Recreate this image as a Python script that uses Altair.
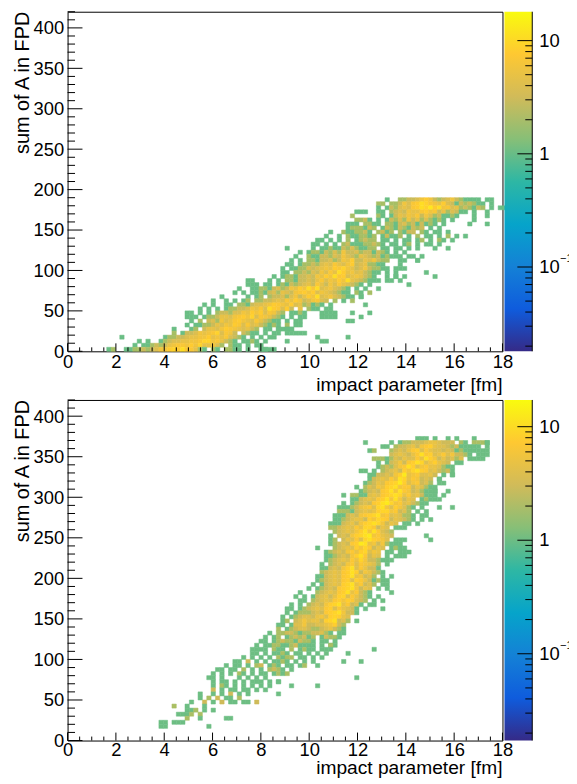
import altair as alt
import pandas as pd

FONT = "Liberation Sans"
BIRD = ["#352a87", "#0f5cdd", "#1481d6", "#06a4ca", "#2eb7a4", "#87bf77", "#d1bb59", "#fec832", "#f9fb0e"]
BIN_X = 0.18
BIN_Y = 5
X_LABELS = list(range(0, 19, 2))
Y_LABELS = list(range(0, 401, 50))
X_MINOR = [i * 0.5 for i in range(37)]
Y_MINOR = list(range(0, 421, 10))
CODES = {"a": 11, "b": 13, "c": 16}

# (row, first column, counts) ; '.' is an empty bin
TOP_ROWS = [
    (37, 73, "1..2233468632346321111.11"),
    (36, 71, "22.2236478a97658431323211.1"),
    (35, 71, "1.13245478a9b8a6745232132.1.11"),
    (34, 66, "111..11.234365578673524311.1"), (34, 96, "1"),
    (33, 65, "2.....21.1354657364231121"), (33, 93, "1"), (33, 96, "1"),
    (32, 66, "2231.1.13242635242121.1"), (32, 93, "1"),
    (31, 64, "111.2211.221342313121.1"), (31, 92, "1"), (31, 96, "1"),
    (30, 64, "1222132.1321321323.1.1"),
    (29, 60, "1..2112231.2312.2133.21.11.1"),
    (28, 59, "1..1.2112212.13112.1.2.11.1.2.1.1"),
    (27, 57, "11.1.1.2.12322.11.1.11.12.1.21.1"),
    (26, 56, "11.1.1.2311122321.11.12.1.11.1"),
    (25, 50, "1.....1.1121132421122.11.11.1"), (25, 80, "1"), (25, 84, "1"), (25, 87, "1"),
    (24, 53, "1.1221324263342331321.1.1"),
    (23, 52, "1..2113324364325432312111.11"), (23, 81, "1"),
    (22, 51, "1.1.2213342365833546322..11..1"), (22, 80, "1"),
    (21, 50, "11.12232454754683452211...1"),
    (20, 49, "1.11224345658796534632211.111"),
    (19, 49, "11.2232436475a856453211.1.1"), (19, 82, "1"),
    (18, 47, "1.122133436586a784565321..1.1"), (18, 75, "1"), (18, 77, "1"), (18, 84, "1"),
    (17, 41, "11...1.1.22133435746586a5432111.11.1"),
    (16, 41, "111.11.12132345375364754321.1"), (16, 78, "1"),
    (15, 39, "1..1122134236586a7a4564321.1.1"), (15, 71, "1"),
    (14, 38, "1.1.11213425436786846543211.2"), (14, 67, "1"), (14, 69, "2"),
    (13, 35, "1.....1.12.23342463586a45643211.1"), (13, 67, "1"),
    (12, 33, "1..1.1.12.22334547586346743.2.1"), (12, 65, "2"),
    (11, 31, "1.1..11.22134456876584523121.1"), (11, 68, "1"),
    (10, 30, "1.1.1.1223346574a87483.5.211.11"),
    (9, 27, "11.1.1.2332446586847632.1121"), (9, 58, "1111"), (9, 65, "1"), (9, 69, "1"),
    (8, 27, "111.1223554678694765321.1.11"), (8, 58, "1111"), (8, 67, "1"),
    (7, 28, "1.2.34264578654753211.1.11"), (7, 64, "11"),
    (6, 27, "1.11223546587474532121.2.11"),
    (5, 24, "1...12.3554687654532.11.1.11"), (5, 48, "1111"),
    (4, 24, "2.1334656794763.3211.1.11"), (4, 50, "11111"),
    (3, 12, "1"), (3, 22, "1223345566856574321.1.1.11"), (3, 64, "1"), (3, 57, "1"),
    (2, 16, "1.1..123445566799675321.1121.1"), (2, 50, "1"), (2, 58, "11"),
    (1, 15, "1.1123235677686955642.211.1.11"),
    (0, 9, "12..1122323466898a77521.21.2211.1..11"), (0, 44, "1111"),
]

BOTTOM_ROWS = [
    (74, 80, "111"), (74, 84, "1"), (74, 87, "1"), (74, 89, "1"), (74, 93, "1"),
    (73, 68, "1"), (73, 74, "1"), (73, 76, "1223334554333.21.2221"), (73, 96, "1"),
    (72, 72, "11"), (72, 75, "23345367854432311111.1"),
    (71, 69, "12"), (71, 74, "23435784754434312111111"),
    (70, 74, "3454357a78457463321.111"),
    (69, 70, "222124354475a86353424.1111"),
    (68, 71, "1.1346378a9468543.11"),
    (67, 71, "1232467a8467554211"),
    (66, 67, "11.1.23453869a87453231"),
    (65, 69, "11334368b5674453.1.1"), (65, 88, "1"),
    (64, 69, "1345475a9576343.1"), (64, 85, "1"),
    (63, 68, "12354789b8467342.11"),
    (62, 66, "1.2436589a677354211"),
    (61, 67, "1234378a6a76342111"), (61, 87, "1"), (61, 84, "1"),
    (60, 63, "1.2211454789a957453111.1"),
    (59, 65, "11345478a6a6354.1211"), (59, 85, "1"),
    (58, 63, "1.1234378ab967453211"),
    (57, 62, "1112356749a6486421.1"), (57, 85, "1"), (57, 88, "1"),
    (56, 62, "22213454589967342.1.1"),
    (55, 61, "1113436789a67454221.11"),
    (54, 61, "1123455386987354321.1"), (54, 83, "1"),
    (53, 60, "1113453689a96354.11.1"),
    (52, 60, "22345475997354.111"),
    (51, 61, "2345468a6a7432"),
    (50, 60, "1.343689ab67543"), (50, 82, "1"),
    (49, 60, "12.354749a8764.111"), (49, 83, "1"),
    (48, 60, "1234378ba56362111"),
    (47, 61, "234548697354.1211"), (47, 57, "1"),
    (46, 59, "1234367589465.11.111"),
    (45, 59, "11234368a7354.1.111"),
    (44, 59, "1234547596332111"),
    (43, 58, "1.234367476542.1"),
    (42, 58, "1134368a475331"),
    (41, 58, "2345478a8365321"),
    (40, 57, "11345478a56342.1.1"),
    (39, 57, "12345478487531211"),
    (38, 56, "1.1345489a57342.11"),
    (37, 55, "1.12343789a6354.1.1"),
    (36, 53, "1...2345478a57321"), (36, 74, "1"),
    (35, 52, "1.1.13453589475321.1"),
    (34, 53, "11.2345478687432.1"), (34, 72, "1"),
    (33, 51, "1.1.2343689a57341.11"),
    (32, 50, "11.12345478475431.1"), (32, 72, "1"),
    (31, 50, "1.1222343789a6331"),
    (30, 49, "1.12344356489854"),
    (29, 49, "12.346455389a342.1"),
    (28, 48, "11.1446334456832"),
    (27, 48, "2.12344322345321"),
    (26, 46, "1.2233212233421.11"),
    (25, 45, "1.12.1232312.13221"),
    (24, 44, "11.1232213221.11.1"),
    (23, 43, "1.112211231111.1.11"), (23, 60, "2"),
    (22, 42, "1111.211.2.1211.11"), (22, 60, "1"), (22, 70, "1"),
    (21, 42, "11.1.1121.11.1.1"), (21, 59, "1"), (21, 64, "1"),
    (20, 40, "1.1.1.1.2122.11.1.1"),
    (19, 38, "11.3.1.1.1121.1.1"), (19, 56, "1"), (19, 63, "1"), (19, 67, "1"),
    (18, 36, "1.11.1.23.121.11.1"), (18, 54, "2"), (18, 57, "1"),
    (17, 34, "11.11.2.1.1.2321.1"),
    (16, 33, "1.1.1.21.1.11.121"), (16, 50, "2"),
    (15, 32, "11.1...1.1.1.1"), (15, 66, "1"),
    (14, 33, "1.11.1.1.111.1.1"), (14, 48, "1"),
    (13, 33, "1.21.1.1.1.1.1"), (13, 51, "1"), (13, 57, "1"),
    (12, 33, "3.1.11.11.1.1"),
    (11, 30, "1..1.1.3.1.1"), (11, 48, "1"),
    (10, 30, "1.2.3.11.2"),
    (9, 28, "1..3.1.3.11.11.3"),
    (8, 24, "2..1...1"),
    (7, 27, "11"), (7, 29, "2"), (7, 31, "1"), (7, 33, "1"),
    (6, 25, "1112.2"),
    (5, 27, "2"), (5, 30, "1"), (5, 36, "11"),
    (4, 21, "11.111"),
    (3, 21, "11"), (3, 32, "1"),
]


def cells(rows):
    out = []
    for row, start, text in rows:
        for i, ch in enumerate(text):
            if ch != ".":
                col = start + i
                v = CODES.get(ch) or int(ch)
                out.append({"x": col * BIN_X, "x2": (col + 1) * BIN_X,
                            "y": row * BIN_Y, "y2": (row + 1) * BIN_Y, "v": v})
    return pd.DataFrame(out)


def heat(rows, hi, h, title_y, label_pad):
    lo = hi / 1000
    xs = alt.Scale(domain=[0, 18], nice=False, zero=False)
    ys = alt.Scale(domain=[0, 420], nice=False, zero=False)
    cs = alt.Scale(type="log", domain=[lo, hi], range=BIRD, clamp=True)
    x_axis = alt.Axis(
        values=X_LABELS, ticks=False, grid=False, domain=False, labelFont=FONT,
        labelFontSize=18.5, labelColor="black", labelPadding=label_pad, title=None,
        labelFlush=False, format="d")
    y_axis = alt.Axis(
        values=Y_LABELS, ticks=False, grid=False, domain=False, labelFont=FONT,
        labelFontSize=18.5, labelColor="black", labelPadding=4, title=None, format="d")
    rects = alt.Chart(cells(rows)).mark_rect(strokeWidth=0.5).encode(
        x=alt.X("x:Q", scale=xs, axis=x_axis),
        x2="x2:Q",
        y=alt.Y("y:Q", scale=ys, axis=y_axis),
        y2="y2:Q",
        color=alt.Color("v:Q", legend=None, scale=cs),
        stroke=alt.Stroke("v:Q", legend=None, scale=cs),
    )
    layers = [rects]
    for length, frame in [(8, [v for v in X_MINOR if v % 2 == 0]), (4, [v for v in X_MINOR if v % 2])]:
        layers.append(alt.Chart(pd.DataFrame({"x": frame})).mark_rule(color="black", strokeWidth=1).encode(
            x=alt.X("x:Q", scale=xs, axis=x_axis), y=alt.value(h), y2=alt.value(h - length)))
    for length, frame in [(15, [v for v in Y_MINOR if v % 50 == 0]), (7.5, [v for v in Y_MINOR if v % 50])]:
        layers.append(alt.Chart(pd.DataFrame({"y": frame})).mark_rule(color="black", strokeWidth=1).encode(
            y=alt.Y("y:Q", scale=ys, axis=y_axis), x=alt.value(0), x2=alt.value(length)))
    xt = alt.Chart(pd.DataFrame({"t": ["impact parameter [fm]"]})).mark_text(
        font=FONT, fontSize=19.3, align="right", baseline="middle", color="black"
    ).encode(x=alt.value(438), y=alt.value(h + title_y), text="t:N")
    yt = alt.Chart(pd.DataFrame({"t": ["sum of A in FPD"]})).mark_text(
        font=FONT, fontSize=20, align="right", baseline="middle", angle=270, color="black"
    ).encode(x=alt.value(-45), y=alt.value(0), text="t:N")
    layers += [xt, yt]
    return alt.layer(*layers).properties(width=438, height=h, view=alt.ViewConfig(stroke="black", strokeWidth=1))


def bar(hi, h):
    lo = hi / 1000
    ys = alt.Scale(type="log", domain=[lo, hi], nice=False)
    stops = [alt.GradientStop(offset=i / 8, color=c) for i, c in enumerate(BIRD)]
    grad = alt.Chart(pd.DataFrame({"a": [0]})).mark_rect(
        color=alt.LinearGradient(gradient="linear", stops=stops, x1=0, x2=0, y1=1, y2=0)
    ).encode(x=alt.value(0), x2=alt.value(28), y=alt.value(0), y2=alt.value(h))
    minors = [m * 10.0 ** k for k in range(-2, 2) for m in range(2, 10)]
    minors = [v for v in minors if lo <= v <= hi]
    majors = [0.1, 1, 10]
    mnr = alt.Chart(pd.DataFrame({"v": minors})).mark_rule(color="black", strokeWidth=1).encode(
        y=alt.Y("v:Q", scale=ys, axis=None), x=alt.value(21), x2=alt.value(28))
    mjr = alt.Chart(pd.DataFrame({"v": majors})).mark_rule(color="black", strokeWidth=1).encode(
        y=alt.Y("v:Q", scale=ys, axis=None), x=alt.value(13), x2=alt.value(28))
    edge = alt.Chart(pd.DataFrame({"a": [0]})).mark_rule(color="black", strokeWidth=1).encode(
        x=alt.value(28), y=alt.value(0), y2=alt.value(h))
    lab = alt.Chart(pd.DataFrame({"v": majors, "t": ["10", "1", "10"]})).mark_text(
        font=FONT, fontSize=18.5, align="left", baseline="middle", color="black"
    ).encode(y=alt.Y("v:Q", scale=ys, axis=None), x=alt.value(35), text="t:N")
    sup = alt.Chart(pd.DataFrame({"v": [0.1], "t": ["\u22121"]})).mark_text(
        font=FONT, fontSize=11, align="left", baseline="middle", color="black", dy=-8
    ).encode(y=alt.Y("v:Q", scale=ys, axis=None), x=alt.value(56), text="t:N")
    return alt.layer(grad, mnr, mjr, edge, lab, sup).properties(
        width=28, height=h, view=alt.ViewConfig(stroke=None))


top = alt.hconcat(heat(TOP_ROWS, 18, 342, 34, 1), bar(18, 342), spacing=2, bounds="flush")
bottom = alt.hconcat(heat(BOTTOM_ROWS, 17.2, 343, 28, 0), bar(17.2, 343), spacing=2, bounds="flush")
chart = alt.vconcat(top, bottom, spacing=3).properties(
    padding={"left": 4, "top": 0, "right": -4, "bottom": 0}
).resolve_scale(color="independent")
chart.save("out.html", embed_options={"renderer": "svg", "actions": False})
